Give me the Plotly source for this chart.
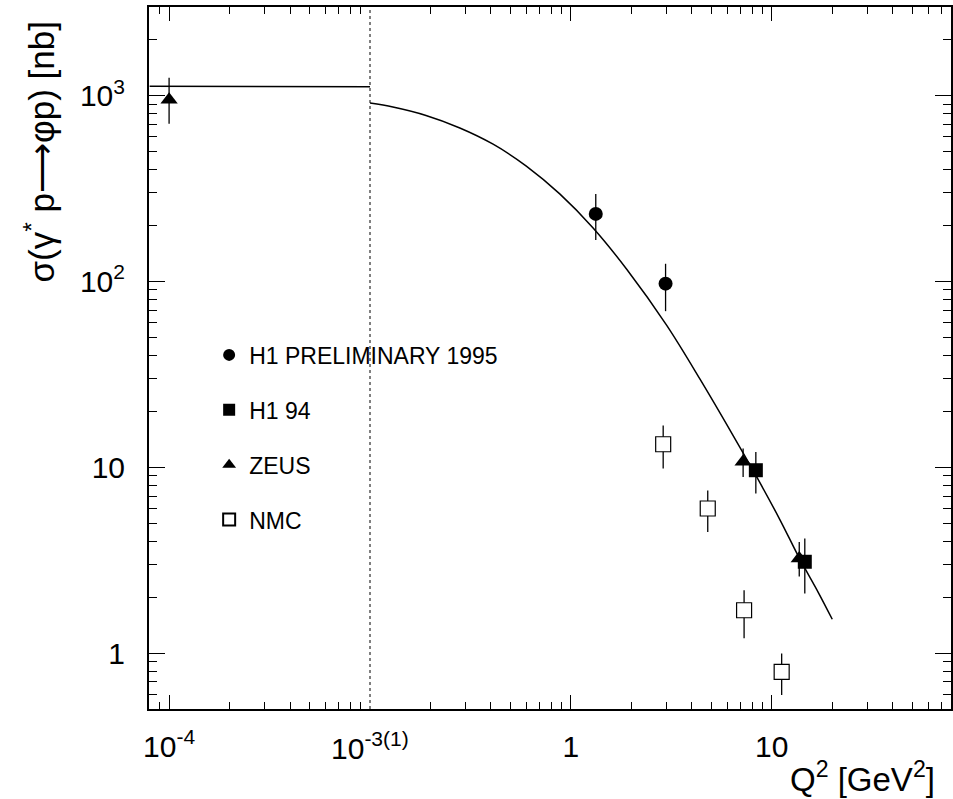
import plotly.graph_objects as go
import numpy as np

# ---------------- data ----------------
# curve - left panel (photoproduction region) and right panel
curve_left_q2 = [8e-5, 1e-3]
curve_left_sig = [1125, 1118]
curve_right_q2 = [0.1, 0.13, 0.19, 0.28, 0.41, 0.60, 0.88, 1.29, 1.9, 3.0, 4.4, 6.4, 8.4, 11.0, 13.8, 17.0, 20.0]
curve_right_sig = [912, 868, 782, 670, 548, 418, 296, 194, 116, 58, 29.7, 14.9, 8.9, 5.2, 3.2, 2.13, 1.52]

# H1 preliminary 1995
h1_95_q2 = [1.33, 2.96]
h1_95_sig = [231, 97.3]
h1_95_hi = [296, 124.5]
h1_95_lo = [167, 69.2]

# H1 94
h1_94_q2 = [8.33, 14.6]
h1_94_sig = [9.64, 3.10]
h1_94_hi = [12.1, 4.14]
h1_94_lo = [7.22, 2.09]

# ZEUS (photoproduction point on left panel, DIS points on right panel)
zeus_gp_q2 = [1e-4]
zeus_gp_sig = [950]
zeus_gp_hi = [1250]
zeus_gp_lo = [706]
zeus_q2 = [7.2, 13.7]
zeus_sig = [10.7, 3.23]
zeus_hi = [12.6, 3.96]
zeus_lo = [8.87, 2.58]

# NMC
nmc_q2 = [2.88, 4.8, 7.28, 11.2]
nmc_sig = [13.3, 6.0, 1.70, 0.793]
nmc_hi = [16.8, 7.5, 2.18, 0.996]
nmc_lo = [9.85, 4.49, 1.20, 0.594]

xl_tickvals = [1e-4]
xl_ticktext = ["10<sup>-4</sup>"]
boundary_label = "10<sup>-3(1)</sup>"
xr_tickvals = [1, 10]
xr_ticktext = ["1", "10"]
y_tickvals = [1, 10, 100, 1000]
y_ticktext = ["1", "10", "10<sup>2</sup>", "10<sup>3</sup>"]

FONT = "Liberation Sans, Arial, sans-serif"
TICKSIZE = 30


def err(v, hi, lo):
    v = np.array(v); hi = np.array(hi); lo = np.array(lo)
    return dict(type="data", symmetric=False, array=list(hi - v), arrayminus=list(v - lo),
                color="black", thickness=1.3, width=0)


fig = go.Figure()

# curves
fig.add_trace(go.Scatter(x=curve_left_q2, y=curve_left_sig, mode="lines",
                         line=dict(color="black", width=1.5), showlegend=False,
                         xaxis="x", yaxis="y"))
fig.add_trace(go.Scatter(x=curve_right_q2, y=curve_right_sig, mode="lines",
                         line=dict(color="black", width=1.5, shape="spline", smoothing=1.0),
                         showlegend=False, xaxis="x2", yaxis="y2"))

# data
fig.add_trace(go.Scatter(x=h1_95_q2, y=h1_95_sig, error_y=err(h1_95_sig, h1_95_hi, h1_95_lo),
                         mode="markers", name="H1 PRELIMINARY 1995", legendgroup="a",
                         marker=dict(symbol="circle", size=14, color="black"),
                         xaxis="x2", yaxis="y2"))
fig.add_trace(go.Scatter(x=h1_94_q2, y=h1_94_sig, error_y=err(h1_94_sig, h1_94_hi, h1_94_lo),
                         mode="markers", name="H1 94", legendgroup="b",
                         marker=dict(symbol="square", size=14, color="black"),
                         xaxis="x2", yaxis="y2"))
fig.add_trace(go.Scatter(x=zeus_q2, y=zeus_sig, error_y=err(zeus_sig, zeus_hi, zeus_lo),
                         mode="markers", name="ZEUS", legendgroup="c",
                         marker=dict(symbol="triangle-up", size=15, color="black"),
                         xaxis="x2", yaxis="y2"))
fig.add_trace(go.Scatter(x=zeus_gp_q2, y=zeus_gp_sig, error_y=err(zeus_gp_sig, zeus_gp_hi, zeus_gp_lo),
                         mode="markers", name="ZEUS", legendgroup="c", showlegend=False,
                         marker=dict(symbol="triangle-up", size=15, color="black"),
                         xaxis="x", yaxis="y"))
fig.add_trace(go.Scatter(x=nmc_q2, y=nmc_sig, error_y=err(nmc_sig, nmc_hi, nmc_lo),
                         mode="markers", name="NMC", legendgroup="d",
                         marker=dict(symbol="square", size=15, color="white",
                                     line=dict(color="black", width=1.2)),
                         xaxis="x2", yaxis="y2"))

split = 221 / 802

axis_common = dict(type="log", showline=True, linecolor="black", linewidth=2,
                   ticks="inside", tickcolor="black", tickwidth=1, showgrid=False,
                   zeroline=False, tickfont=dict(family=FONT, size=TICKSIZE, color="black"))

xl_minor = [9e-5] + [k * 1e-4 for k in range(2, 10)]
xr_minor = [k * 0.1 for k in range(2, 10)] + list(range(2, 10)) + [20, 30, 40, 50, 60, 70]
y_minor = [0.6, 0.7, 0.8, 0.9] + list(range(2, 10)) + [k * 10 for k in range(2, 10)] + \
          [k * 100 for k in range(2, 10)] + [2000, 3000]

fig.update_layout(
    width=953, height=799, autosize=False,
    margin=dict(l=149, r=2, t=7, b=90),
    paper_bgcolor="white", plot_bgcolor="white",
    font=dict(family=FONT, color="black"),
    xaxis=dict(axis_common, domain=[0, split], range=[-4.1, -3], mirror="allticks",
               tickmode="array", tickvals=xl_tickvals, ticktext=xl_ticktext, ticklen=14,
               ticklabelstandoff=10,
               minor=dict(tickmode="array", tickvals=xl_minor, ticklen=7, ticks="inside",
                          tickcolor="black", tickwidth=1),
               anchor="y"),
    xaxis2=dict(axis_common, domain=[split, 1], range=[-1, np.log10(78)], mirror="allticks",
                tickmode="array", tickvals=xr_tickvals, ticktext=xr_ticktext, ticklen=14,
                ticklabelstandoff=10,
                minor=dict(tickmode="array", tickvals=xr_minor, ticklen=7, ticks="inside",
                           tickcolor="black", tickwidth=1),
                anchor="y2"),
    yaxis=dict(axis_common, range=[np.log10(0.5), np.log10(3000)], anchor="x",
               tickmode="array", tickvals=y_tickvals, ticktext=y_ticktext, ticklen=16,
               ticklabelstandoff=16,
               minor=dict(tickmode="array", tickvals=y_minor, ticklen=8, ticks="inside",
                          tickcolor="black", tickwidth=1)),
    yaxis2=dict(axis_common, range=[np.log10(0.5), np.log10(3000)], anchor="x2", side="right",
                tickmode="array", tickvals=y_tickvals, showticklabels=False, ticklen=16,
                minor=dict(tickmode="array", tickvals=y_minor, ticklen=8, ticks="inside",
                           tickcolor="black", tickwidth=1)),
    legend=dict(x=0.075, y=0.535, xanchor="left", yanchor="top",
                bgcolor="rgba(0,0,0,0)", font=dict(family=FONT, size=23, color="black"),
                tracegroupgap=22, itemsizing="constant"),
    showlegend=True,
)

# dotted separation line at panel boundary
fig.add_shape(type="line", xref="x2 domain", yref="paper", x0=0, x1=0, y0=0, y1=1,
              line=dict(color="black", width=1, dash="dot"))

# boundary tick label
fig.add_annotation(text=boundary_label, xref="x2 domain", yref="paper", x=0, y=0,
                   xanchor="center", yanchor="top", yshift=-16, showarrow=False,
                   font=dict(family=FONT, size=TICKSIZE, color="black"))

# axis titles
fig.add_annotation(text="Q<sup>2</sup> [GeV<sup>2</sup>]", xref="paper", yref="paper",
                   x=1, y=0, xanchor="right", yanchor="middle", xshift=-14, yshift=-68,
                   showarrow=False, font=dict(family=FONT, size=33, color="black"))
fig.add_annotation(text="σ(γ<sup>*</sup> p⟶φp) [nb]", xref="paper", yref="paper",
                   x=0, y=1, xanchor="center", yanchor="top", xshift=-110, yshift=-13,
                   textangle=-90, showarrow=False,
                   font=dict(family=FONT, size=35, color="black"))

fig.write_html("out.html")
